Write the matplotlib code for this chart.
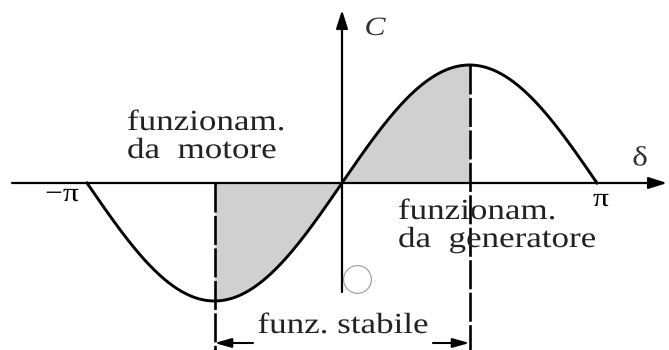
import numpy as np
import matplotlib.pyplot as plt
from matplotlib.patheffects import AbstractPathEffect
from matplotlib.transforms import Affine2D

# Torque-angle characteristic of a synchronous machine: C = C_max * sin(delta)
c_max = 1.0
delta_min, delta_max = -np.pi, np.pi
stable_lo, stable_hi = -np.pi / 2, np.pi / 2
tick_positions = [-np.pi, np.pi]
tick_labels = ["\u2212\u03c0", "\u03c0"]
label_motor = "funzionam.\nda  motore"
label_gen = "funzionam.\nda  generatore"
label_stable = "funz. stabile"

plt.rcParams['font.family'] = ['Liberation Serif', 'DejaVu Serif']


class HStretch(AbstractPathEffect):
    """Widen glyphs horizontally about the text anchor."""

    def __init__(self, text, factor):
        super().__init__()
        self.text = text
        self.factor = factor

    def draw_path(self, renderer, gc, tpath, affine, rgbFace=None):
        x0, _ = self.text.get_transform().transform(self.text.get_position())
        t = affine + Affine2D().translate(-x0, 0).scale(self.factor, 1).translate(x0, 0)
        renderer.draw_path(gc, tpath, t, rgbFace)


def label(ax, x, y, s, stretch=1.2, **kw):
    t = ax.text(x, y, s, **kw)
    t.set_path_effects([HStretch(t, stretch)])
    return t


W, H, DPI = 669, 350, 100
fig = plt.figure(figsize=(W / DPI, H / DPI), dpi=DPI)
ax = fig.add_axes([0, 0, 1, 1])
ax.set_axis_off()

# pixel scale: origin at (342, 183), pi -> 255 px, unit amplitude -> 118 px
ox, oy, sx, sy = 342, 183, 255 / np.pi, 118
ax.set_xlim(-ox / sx, (W - ox) / sx)
ax.set_ylim(-(H - oy) / sy, oy / sy)


def px(x):
    return (x - ox) / sx


def py(y):
    return (oy - y) / sy


delta = np.linspace(delta_min, delta_max, 600)
torque = c_max * np.sin(delta)

# stable operating region shading
mask = (delta >= stable_lo) & (delta <= stable_hi)
ax.fill_between(delta[mask], 0, torque[mask], color='#d0d0d0', lw=0, zorder=1)

ax.plot(delta, torque, color='black', lw=2.1, zorder=3)

# axes with arrowheads
arrow = dict(arrowstyle='-|>,head_length=1.1,head_width=0.35', color='black',
             lw=1.6, shrinkA=0, shrinkB=0)
ax.annotate('', xy=(px(667), 0), xytext=(px(12), 0), arrowprops=arrow, zorder=4)
ax.annotate('', xy=(0, py(10)), xytext=(0, py(292)), arrowprops=arrow, zorder=4)

# dashed limits of the stable region
y_bottom = ax.get_ylim()[0]
ax.plot([stable_lo, stable_lo], [0, y_bottom], color='black', lw=1.9,
        dashes=(11, 1.3), zorder=2)
ax.plot([stable_hi, stable_hi], [c_max * np.sin(stable_hi), y_bottom],
        color='black', lw=1.9, dashes=(11, 1.3), zorder=2)

# arrows marking the stable interval
y_arr = py(343)
small = dict(arrowstyle='-|>,head_length=1.0,head_width=0.28', color='black',
             lw=1.5, shrinkA=0, shrinkB=0)
ax.annotate('', xy=(stable_lo, y_arr), xytext=(px(253), y_arr), arrowprops=small)
ax.annotate('', xy=(stable_hi, y_arr), xytext=(px(433), y_arr), arrowprops=small)
label(ax, px(343), py(326), label_stable, ha='center', va='center',
      fontsize=21, color='#222222', stretch=1.2)

# tick labels
label(ax, px(62), py(195), tick_labels[0], ha='center', va='center', fontsize=19)
label(ax, px(601), py(200), tick_labels[1], ha='center', va='center', fontsize=19)

# axis labels
label(ax, px(375), py(29), 'C', ha='center', va='center', fontsize=19,
      style='italic', color='#333333')
label(ax, px(640), py(159), '\u03b4', ha='center', va='center', fontsize=20,
      color='#333333')

# operating region labels
label(ax, px(127), py(137), label_motor, ha='left', va='center',
      fontsize=21, linespacing=1.1, color='#222222')
label(ax, px(398), py(226), label_gen, ha='left', va='center',
      fontsize=21, linespacing=1.1, color='#222222')

# small circle marker below the origin
ax.plot([px(357)], [py(279)], marker='o', markersize=20, mfc='none',
        mec='#999999', mew=0.8, ls='none')

fig.savefig('out.png', dpi=DPI)
